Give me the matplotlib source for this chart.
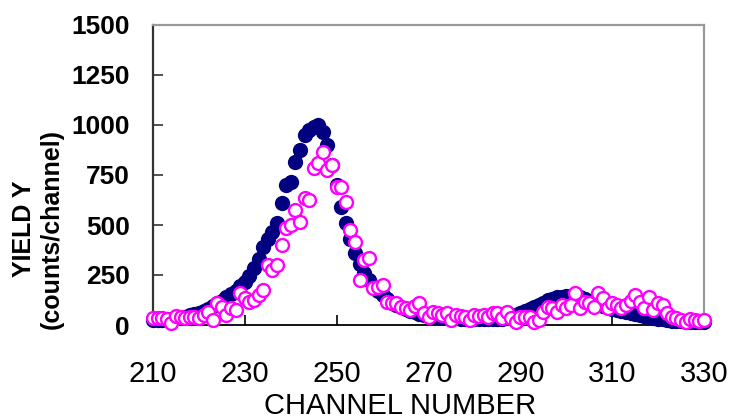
import matplotlib
matplotlib.use("Agg")
import matplotlib.pyplot as plt
import numpy as np

# -----------------------------------------------------------------------
# Data, one value per channel 210..330
# -----------------------------------------------------------------------
channel = np.arange(210, 331)

yield_filled = [
    25, 25, 26, 28, 30, 33, 37, 42, 48, 55,
    62, 72, 82, 95, 108, 122, 138, 155, 172, 195,
    215, 245, 285, 330, 390, 430, 465, 510, 610, 700,
    715, 815, 875, 950, 975, 990, 1000, 965, 900, 800,
    700, 590, 510, 430, 360, 305, 260, 225, 195, 170,
    150, 130, 112, 98, 88, 78, 70, 63, 57, 52,
    48, 44, 41, 38, 36, 34, 33, 32, 31, 30,
    30, 29, 29, 29, 29, 29, 30, 35, 42, 52,
    62, 72, 82, 92, 100, 112, 125, 132, 138, 142,
    145, 145, 143, 138, 130, 120, 112, 104, 96, 88,
    82, 76, 70, 65, 60, 55, 50, 45, 40, 36,
    32, 28, 25, 22, 20, 18, 16, 15, 14, 13,
    13,
]

yield_open = [
    33, 33, 33, 30, 10, 45, 40, 37, 38, 38,
    33, 50, 67, 25, 108, 92, 50, 83, 75, 158,
    133, 117, 125, 150, 175, 300, 275, 300, 400, 485,
    500, 575, 515, 635, 625, 785, 810, 865, 775, 800,
    690, 690, 615, 475, 415, 225, 325, 335, 185, 190,
    200, 117, 110, 108, 92, 85, 75, 95, 108, 58,
    42, 67, 58, 50, 58, 25, 50, 45, 42, 25,
    50, 45, 50, 42, 58, 58, 33, 67, 33, 17,
    42, 42, 42, 17, 25, 67, 92, 83, 67, 100,
    83, 100, 158, 83, 117, 108, 92, 158, 133, 83,
    108, 100, 83, 100, 120, 150, 117, 83, 142, 75,
    108, 100, 58, 42, 33, 25, 17, 30, 25, 20,
    25,
]

x_ticks = [210, 230, 250, 270, 290, 310, 330]
y_ticks = [0, 250, 500, 750, 1000, 1250, 1500]

NAVY = "#000080"
MAGENTA = "#FF00FF"

plt.rcParams["font.family"] = ["Liberation Sans", "DejaVu Sans"]

fig = plt.figure(figsize=(7.33, 4.19), dpi=100)
ax = fig.add_axes([153 / 733, 94 / 419, 551 / 733, 300 / 419])

ax.plot(channel, yield_filled, "o", color=NAVY, markersize=11,
        markeredgewidth=0, clip_on=False, zorder=3)
ax.plot(channel, yield_open, "o", markerfacecolor="white",
        markeredgecolor=MAGENTA, markersize=9.3, markeredgewidth=1.7,
        clip_on=False, zorder=4)

ax.set_xlim(210, 330)
ax.set_ylim(0, 1500)
ax.set_xticks(x_ticks)
ax.set_yticks(y_ticks)
ax.set_xticklabels([str(v) for v in x_ticks], fontsize=21)
ax.set_yticklabels([str(v) for v in y_ticks], fontsize=19, fontweight="bold")
ax.tick_params(axis="x", direction="in", length=7, width=1.2, pad=25,
               color="black")
ax.tick_params(axis="y", direction="in", length=7, width=1.2, pad=16.5,
               color="#333333")

ax.spines["left"].set_color("#333333")
ax.spines["left"].set_linewidth(1.6)
ax.spines["bottom"].set_color("black")
ax.spines["bottom"].set_linewidth(1.3)
for side in ("top", "right"):
    ax.spines[side].set_color("#999999")
    ax.spines[side].set_linewidth(1.6)

fig.text(400 / 733, 1 - 406 / 419, "CHANNEL NUMBER", fontsize=21,
         ha="center", va="center")
fig.text(37.5 / 733, 1 - 228.5 / 419, "YIELD Y\n(counts/channel)",
         fontsize=18, fontweight="bold", rotation=90, ha="center",
         va="center", multialignment="center", linespacing=1.2)

fig.savefig("out.png", dpi=100)
plt.close(fig)
